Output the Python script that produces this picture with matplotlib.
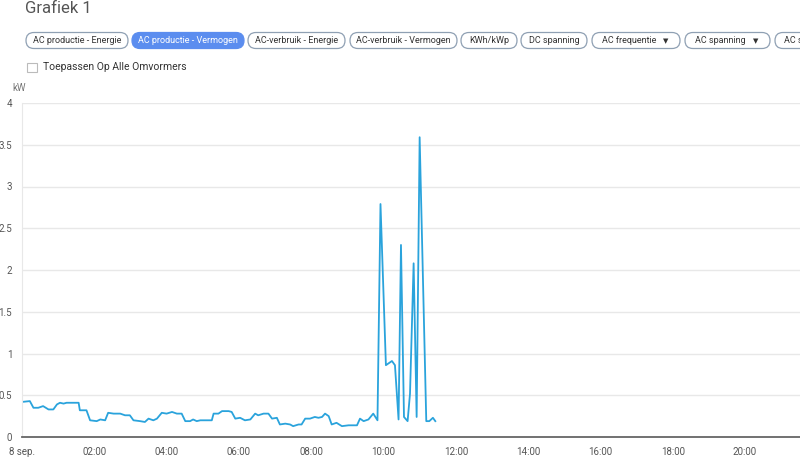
import matplotlib
matplotlib.use("Agg")
import matplotlib.pyplot as plt
from matplotlib.patches import FancyBboxPatch, Rectangle
import numpy as np

# time in minutes since midnight, AC power in kW
minutes = [0, 13, 19, 27, 35, 44, 52, 58, 63, 69, 74, 94, 96, 107, 113, 124, 130, 138,
           143, 152, 163, 171, 179, 185, 196, 204, 210, 218, 224, 232, 240, 249, 257,
           265, 271, 279, 284, 290, 296, 304, 315, 318, 326, 332, 343, 348, 354, 362,
           370, 379, 387, 392, 401, 409, 415, 423, 428, 437, 445, 450, 459, 464, 470,
           478, 486, 492, 498, 503, 509, 514, 522, 531, 542, 556, 561, 567, 575, 583,
           590, 595, 604, 614, 619, 625, 629, 634, 640, 644, 650, 655, 660, 671, 676,
           682, 686]
power = [0.42, 0.43, 0.35, 0.35, 0.37, 0.33, 0.33, 0.39, 0.41, 0.40, 0.41, 0.41, 0.32,
         0.32, 0.20, 0.19, 0.21, 0.20, 0.29, 0.28, 0.28, 0.26, 0.26, 0.20, 0.19, 0.18,
         0.22, 0.20, 0.22, 0.29, 0.28, 0.30, 0.28, 0.28, 0.19, 0.19, 0.21, 0.19, 0.20,
         0.20, 0.20, 0.28, 0.28, 0.31, 0.31, 0.30, 0.22, 0.23, 0.20, 0.21, 0.28, 0.26,
         0.28, 0.28, 0.22, 0.23, 0.15, 0.16, 0.15, 0.13, 0.15, 0.15, 0.22, 0.22, 0.24,
         0.23, 0.24, 0.28, 0.25, 0.15, 0.17, 0.13, 0.14, 0.14, 0.22, 0.19, 0.21, 0.28,
         0.20, 2.79, 0.86, 0.91, 0.86, 0.21, 2.30, 0.24, 0.19, 0.52, 2.08, 0.24, 3.59,
         0.19, 0.19, 0.23, 0.19]

tick_hours = [0, 2, 4, 6, 8, 10, 12, 14, 16, 18, 20]
tick_labels = ["8 sep.", "02:00", "04:00", "06:00", "08:00", "10:00", "12:00",
               "14:00", "16:00", "18:00", "20:00"]
y_ticks = [0, 0.5, 1, 1.5, 2, 2.5, 3, 3.5, 4]
y_labels = ["0", "0.5", "1", "1.5", "2", "2.5", "3", "3.5", "4"]

buttons = ["AC productie - Energie", "AC productie - Vermogen", "AC-verbruik - Energie",
           "AC-verbruik - Vermogen", "KWh/kWp", "DC spanning", "AC frequentie",
           "AC spanning", "AC s"]
button_x = [(26, 128), (132, 244), (248, 345), (350, 457), (461, 517), (521, 587),
            (592, 680), (685, 770), (775, 860)]
active = 1

plt.rcParams['font.family'] = ['Roboto', 'DejaVu Sans']

W, H = 800, 468
fig = plt.figure(figsize=(8, 4.68), dpi=100)

# main chart
ax = fig.add_axes([22 / W, (H - 437) / H, 778 / W, 334 / H])
hours = np.array(minutes) / 60.0
ax.plot(hours, power, color="#2aa3dc", lw=1.3)
ax.set_xlim(0, 778 / 36.15)
ax.set_ylim(0, 4)
ax.set_yticks(y_ticks)
ax.set_yticklabels(y_labels)
ax.set_xticks(tick_hours)
ax.set_xticklabels(tick_labels)
ax.grid(axis="y", color="#e8e8e8", lw=1)
ax.set_axisbelow(True)
for s in ["top", "right"]:
    ax.spines[s].set_visible(False)
ax.spines["left"].set_color("#e8e8e8")
ax.spines["bottom"].set_color("#666666")
ax.spines["bottom"].set_linewidth(1.3)
ax.tick_params(axis="both", length=0, labelsize=7, colors="#555555")
ax.tick_params(axis="y", pad=7)
ax.tick_params(axis="x", pad=7)

# overlay in pixel coords for header elements
ov = fig.add_axes([0, 0, 1, 1], zorder=-1)
ov.set_xlim(0, W)
ov.set_ylim(H, 0)
ov.axis("off")

ov.text(25, 8.5, "Grafiek 1", fontsize=12, color="#555555", va="center", ha="left")
ov.text(12, 88, "kW", fontsize=7, color="#777777", va="center", ha="left")

for i, (label, (x0, x1)) in enumerate(zip(buttons, button_x)):
    is_active = i == active
    box = FancyBboxPatch((x0, 32.5), x1 - x0, 16,
                         boxstyle="round,pad=0,rounding_size=8",
                         facecolor="#5b8def" if is_active else "white",
                         edgecolor="#5b8def" if is_active else "#8fa0b3",
                         lw=0.9, clip_on=False)
    ov.add_patch(box)
    if i == len(buttons) - 1:
        ov.text(x0 + 9, 40.5, label, fontsize=6.5, color="#333333",
                va="center", ha="left")
    elif label in ("AC frequentie", "AC spanning"):
        ov.text(x0 + 10, 40.5, label, fontsize=6.5, color="#333333",
                va="center", ha="left")
        ov.text(x1 - 14, 41, "\u25BC", fontsize=5, color="#333333",
                va="center", ha="center", family="DejaVu Sans")
    else:
        ov.text((x0 + x1) / 2, 40.5, label, fontsize=6.5,
                color="white" if is_active else "#333333", va="center", ha="center")

ov.add_patch(Rectangle((27, 62.5), 9.5, 9.5, facecolor="white", edgecolor="#bbbbbb", lw=0.8))
ov.text(43, 67, "Toepassen Op Alle Omvormers", fontsize=7.5, color="#333333",
        va="center", ha="left")

fig.savefig("out.png", dpi=100, facecolor="white")
